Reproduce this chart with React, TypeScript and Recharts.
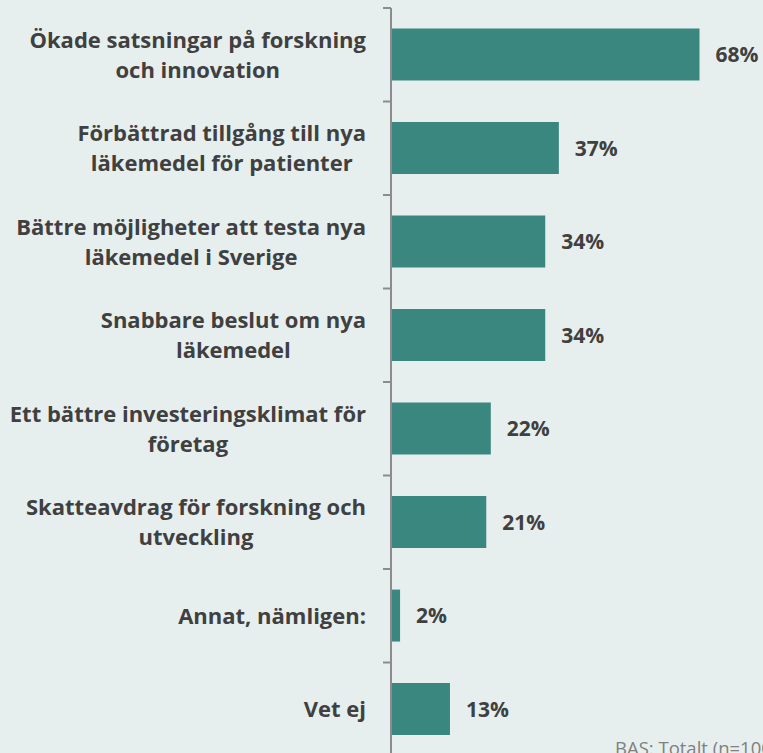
import React from 'react'
import { Bar, BarChart, LabelList, XAxis, YAxis } from 'recharts'

const categoryLines: string[][] = [
  ['Ökade satsningar på forskning', 'och innovation'],
  ['Förbättrad tillgång till nya', 'läkemedel för patienter'],
  ['Bättre möjligheter att testa nya', 'läkemedel i Sverige'],
  ['Snabbare beslut om nya', 'läkemedel'],
  ['Ett bättre investeringsklimat för', 'företag'],
  ['Skatteavdrag för forskning och', 'utveckling'],
  ['Annat, nämligen:'],
  ['Vet ej'],
]
const shares = [68, 37, 34, 34, 22, 21, 2, 13]

const data = categoryLines.map((lines, i) => ({ name: lines.join(' '), value: shares[i] }))

const palette = {
  bg: '#e7efee',
  bar: '#3a877f',
  text: '#404040',
  axis: '#8c8c8c',
  note: '#808080',
}

const FONT = '"Open Sans", sans-serif'
const LABEL_SIZE = 22
const CHART_W = 763
const CHART_H = 760
const MARGIN = { top: 8, right: 0, bottom: 4, left: 0 }
const BAND = (CHART_H - MARGIN.top - MARGIN.bottom) / data.length

let ctx: CanvasRenderingContext2D | null = null
function measure(text: string) {
  if (!ctx) ctx = document.createElement('canvas').getContext('2d')
  if (!ctx) return text.length * 10
  ctx.font = `700 ${LABEL_SIZE}px ${FONT}`
  return ctx.measureText(text).width
}

function CategoryTick(props: any) {
  const { x, y, index } = props
  const lines = categoryLines[index] ?? []
  const right = x - 25
  const maxW = Math.max(...lines.map(measure))
  const cx = right - maxW / 2
  return (
    <g>
      <line x1={x - 8} x2={x} y1={y - BAND / 2} y2={y - BAND / 2} stroke={palette.axis} strokeWidth={2} />
      <text textAnchor="middle" fontFamily={FONT} fontWeight={700} fontSize={LABEL_SIZE} fill={palette.text}>
        {lines.map((l, i) => (
          <tspan key={i} x={cx} y={y + 8 + (i - (lines.length - 1) / 2) * 30}>
            {l}
          </tspan>
        ))}
      </text>
    </g>
  )
}

export default function App() {
  return (
    <div
      style={{
        position: 'absolute',
        left: 0,
        top: 0,
        width: CHART_W,
        height: 753,
        overflow: 'hidden',
        background: palette.bg,
      }}
    >
      <BarChart
        width={CHART_W}
        height={CHART_H}
        data={data}
        layout="vertical"
        margin={MARGIN}
        barCategoryGap="22%"
      >
        <XAxis type="number" domain={[0, 82]} hide />
        <YAxis
          type="category"
          dataKey="name"
          width={391}
          tickSize={0}
          tickMargin={0}
          tickLine={false}
          axisLine={{ stroke: palette.axis, strokeWidth: 2 }}
          tick={<CategoryTick />}
          interval={0}
        />
        <Bar dataKey="value" fill={palette.bar} isAnimationActive={false}>
          <LabelList
            dataKey="value"
            position="right"
            offset={16}
            formatter={(v: any) => `${v}%`}
            style={{ fontFamily: FONT, fontWeight: 700, fontSize: 21, fill: palette.text }}
          />
        </Bar>
      </BarChart>
      <div
        style={{
          position: 'absolute',
          left: 615,
          top: 735,
          fontFamily: FONT,
          fontSize: 18.5,
          color: palette.note,
          whiteSpace: 'nowrap',
        }}
      >
        BAS: Totalt (n=1000)
      </div>
    </div>
  )
}
